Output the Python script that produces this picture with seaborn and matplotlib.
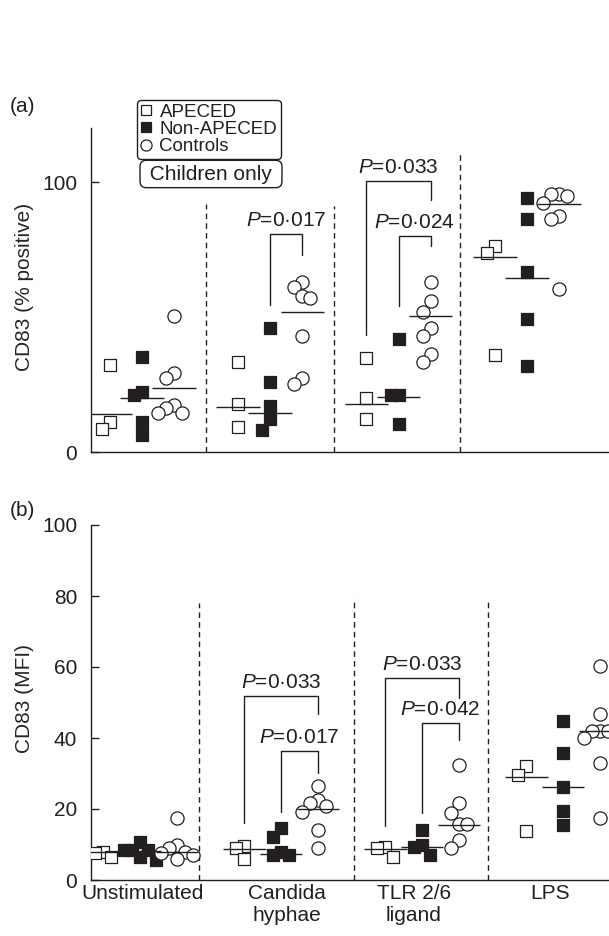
import numpy as np
import pandas as pd
import matplotlib
matplotlib.use('Agg')
import matplotlib.pyplot as plt
import seaborn as sns
from matplotlib.lines import Line2D

# categories
stimuli = ['Unstimulated', 'Candida\nhyphae', 'TLR 2/6\nligand', 'LPS']
groups = ['APECED', 'Non-APECED', 'Controls']

# (a) CD83 % positive, one list per stimulus
pct_apeced = [[32.3, 11.2, 8.6], [33.5, 17.8, 9.3], [35.0, 20.1, 12.3], [76.2, 73.6, 36.1]]
pct_non = [[35.3, 22.3, 21.2, 11.2, 6.3], [46.1, 26.0, 17.1, 12.3, 8.2],
           [42.0, 21.2, 21.2, 10.4], [94.1, 86.2, 66.5, 49.1, 32.0]]
pct_ctrl = [[50.2, 29.4, 27.5, 17.5, 16.4, 14.5, 14.5],
            [62.8, 61.0, 57.6, 57.2, 42.8, 27.5, 25.3],
            [62.8, 56.1, 51.7, 46.1, 43.1, 36.4, 33.5],
            [95.5, 95.5, 94.8, 92.2, 87.4, 86.2, 60.2]]
pct_median = [[14.1, 20.1, 23.8], [16.7, 14.5, 51.7], [17.8, 20.4, 50.2], [72.1, 64.3, 91.8]]

# (b) CD83 MFI
mfi_apeced = [[7.9, 7.6, 6.5], [9.6, 9.0, 5.9], [9.3, 9.0, 6.5], [32.1, 29.6, 13.8]]
mfi_non = [[10.7, 8.5, 8.5, 8.5, 6.5, 5.6], [14.6, 12.1, 7.9, 7.0, 7.0],
           [14.1, 9.9, 9.3, 7.0], [44.8, 35.8, 26.2, 19.4, 15.5]]
mfi_ctrl = [[17.5, 9.9, 9.0, 7.9, 7.6, 7.0, 5.9],
            [26.5, 22.5, 21.7, 20.8, 19.2, 14.1, 9.0],
            [32.4, 21.7, 18.9, 15.8, 15.8, 11.3, 9.0],
            [60.3, 46.8, 42.0, 42.0, 42.0, 40.0, 33.0, 17.5]]
mfi_median = [[7.8, 8.2, 7.8], [8.7, 7.2, 20.0], [8.7, 9.3, 15.5], [29.0, 26.2, 42.0]]

# P-value brackets: stimulus, left group, right group, top, left foot, right foot, p
pct_brackets = [(1, 1, 2, 80.7, 54.6, 72.9, '0·017'),
                (2, 0, 2, 100.4, 43.5, 93.3, '0·033'),
                (2, 1, 2, 79.9, 53.9, 76.2, '0·024')]
mfi_brackets = [(1, 0, 2, 51.8, 16.1, 46.8, '0·033'),
                (1, 1, 2, 36.3, 19.2, 30.1, '0·017'),
                (2, 0, 2, 56.9, 15.2, 51.3, '0·033'),
                (2, 1, 2, 44.2, 18.9, 39.4, '0·042')]

INK = '#231f20'

sns.set_theme(style='ticks')
plt.rcParams['font.family'] = ['Liberation Sans', 'DejaVu Sans']
plt.rcParams['mathtext.fontset'] = 'custom'
plt.rcParams['mathtext.it'] = 'Liberation Sans:italic'
plt.rcParams['mathtext.rm'] = 'Liberation Sans'
plt.rcParams['axes.edgecolor'] = INK
plt.rcParams['text.color'] = INK
plt.rcParams['xtick.color'] = INK
plt.rcParams['ytick.color'] = INK


def nudge(vals, near):
    # put close values side by side (slots 0, -1, 1, -2, 2 ...)
    placed = []
    for v in vals:
        for c in (0, -1, 1, -2, 2, -3, 3):
            if all(abs(v - pv) >= near for pv, pc in placed if pc == c):
                break
        placed.append((v, c))
    return [c for _, c in placed]


def build(series, near, spread, step):
    rows = []
    for g, data in zip(groups, series):
        for i, vals in enumerate(data):
            slots = nudge(vals, near)
            for v, c in zip(vals, slots):
                rows.append({'group': g, 'stim': i, 'value': v,
                             'x': i + (groups.index(g) - 1) * spread + c * step})
    return pd.DataFrame(rows)


fig = plt.figure(figsize=(6.09, 9.36), dpi=100)
ax_a = fig.add_axes([91 / 609, 1 - 452 / 936, 518 / 609, 324 / 936])
ax_b = fig.add_axes([91 / 609, 1 - 880 / 936, 518 / 609, 355 / 936])

panels = [
    (ax_a, build([pct_apeced, pct_non, pct_ctrl], 4.5, 0.25, 0.062), pct_median, pct_brackets,
     (-0.397, 3.64), (0, 120), [0, 100], [0.5, 1.5, 2.48], [92, 91, 111], 0.25, 0.17,
     'CD83 (% positive)'),
    (ax_b, build([mfi_apeced, mfi_non, mfi_ctrl], 3.4, 0.26, 0.057), mfi_median, mfi_brackets,
     (-0.348, 3.326), (0, 100), [0, 20, 40, 60, 80, 100], [0.42, 1.52, 2.47], [78, 79.5, 79.5],
     0.26, 0.15, 'CD83 (MFI)'),
]

styles = {'APECED': ('s', 'white', 78), 'Non-APECED': ('s', INK, 78), 'Controls': ('o', 'white', 90)}

for ax, df, med, brackets, xlim, ylim, yticks, seps, sep_tops, spread, hw, ylab in panels:
    for g in groups:
        mk, fc, s = styles[g]
        sns.scatterplot(data=df[df['group'] == g], x='x', y='value', marker=mk, s=s,
                        color=fc, edgecolor=INK, linewidth=0.9, ax=ax, zorder=3)
    # median lines
    for i in range(len(stimuli)):
        for j in range(3):
            xc = i + (j - 1) * spread
            ax.hlines(med[i][j], xc - hw, xc + hw, color=INK, lw=1.0, zorder=4)
    # dashed separators
    ax.vlines(seps, 0, sep_tops, colors=INK, lw=1.0, linestyles=(0, (4, 3)))
    # brackets
    for i, l, r, top, lf, rf, p in brackets:
        x1 = i + (l - 1) * spread
        x2 = i + (r - 1) * spread
        ax.plot([x1, x1, x2, x2], [lf, top, top, rf], color=INK, lw=1.0)
        ax.annotate(r'$P$=' + p, xy=((x1 + x2) / 2, top), xytext=(0, 3),
                    textcoords='offset points', ha='center', va='bottom', fontsize=15)
    ax.set_xlim(*xlim)
    ax.set_ylim(*ylim)
    ax.set_yticks(yticks)
    ax.tick_params(axis='y', direction='in', length=6, width=1.0, pad=10, labelsize=15)
    ax.tick_params(axis='x', length=0, pad=3, labelsize=15)
    ax.set_xlabel('')
    ax.set_ylabel(ylab, fontsize=15)
    ax.yaxis.set_label_coords(-0.11, 0.51)
    for side in ['top', 'right']:
        ax.spines[side].set_visible(False)
    for side in ['left', 'bottom']:
        ax.spines[side].set_linewidth(1.0)

ax_a.set_xticks([])
# label positions sit a little off the group centres in the original
ax_b.set_xticks([0.02, 1.04, 1.94, 2.91])
ax_b.set_xticklabels(stimuli)

fig.text(10 / 609, 1 - 107 / 936, '(a)', fontsize=15, va='center')
fig.text(10 / 609, 1 - 510 / 936, '(b)', fontsize=15, va='center')

handles = [Line2D([], [], marker=styles[g][0], ls='', mfc=styles[g][1], mec=INK, mew=0.9,
                  ms=7.5 if styles[g][0] == 's' else 8) for g in groups]
leg = fig.legend(handles, groups, loc='upper left', bbox_to_anchor=(137 / 609, 1 - 100 / 936),
                 fontsize=13.5, frameon=True, fancybox=True, framealpha=1, edgecolor=INK,
                 handlelength=0.6, handletextpad=0.4, labelspacing=0.0, borderpad=0.2,
                 borderaxespad=0)
leg.get_frame().set_linewidth(1.0)

fig.text(211 / 609, 1 - 174 / 936, ' Children only ', ha='center', va='center', fontsize=15,
         bbox=dict(boxstyle='round,pad=0.2,rounding_size=0.3', fc='white', ec=INK, lw=1.0))

fig.savefig('out.png', dpi=100)
